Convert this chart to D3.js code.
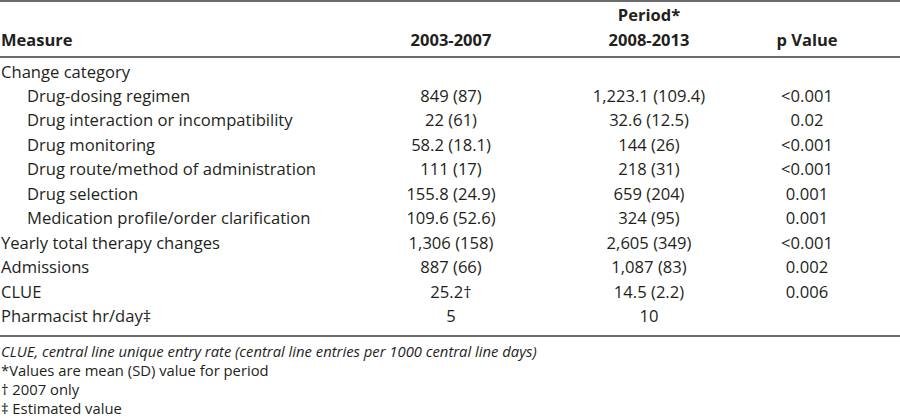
<!DOCTYPE html>
<html><head><meta charset="utf-8">
<script src="https://cdn.jsdelivr.net/npm/d3@7"></script>
<style>body{margin:0;background:#fff;} svg{display:block;}</style>
</head><body><div id="c"></div>
<script>
const columns = ["Measure", "2003-2007", "2008-2013", "p Value"];
const measures = ["Change category", "Drug-dosing regimen", "Drug interaction or incompatibility", "Drug monitoring", "Drug route/method of administration", "Drug selection", "Medication profile/order clarification", "Yearly total therapy changes", "Admissions", "CLUE", "Pharmacist hr/day\u2021"];
const indented = [false, true, true, true, true, true, true, false, false, false, false];
const period1 = ["", "849 (87)", "22 (61)", "58.2 (18.1)", "111 (17)", "155.8 (24.9)", "109.6 (52.6)", "1,306 (158)", "887 (66)", "25.2\u2020", "5"];
const period2 = ["", "1,223.1 (109.4)", "32.6 (12.5)", "144 (26)", "218 (31)", "659 (204)", "324 (95)", "2,605 (349)", "1,087 (83)", "14.5 (2.2)", "10"];
const pValues = ["", "<0.001", "0.02", "<0.001", "<0.001", "0.001", "0.001", "<0.001", "0.002", "0.006", ""];
const footnotes = ["CLUE, central line unique entry rate (central line entries per 1000 central line days)", "*Values are mean (SD) value for period", "\u2020 2007 only", "\u2021 Estimated value"];

const W = 900, H = 418;
const FONT = "'Open Sans', sans-serif";
const BODY = 16.6, HEAD = 16.5, FOOT = 14.8;
const svg = d3.select("#c").append("svg").attr("width", W).attr("height", H);

const y = d3.scalePoint().domain(d3.range(measures.length)).range([77.5, 322]);
const x = d3.scaleOrdinal().domain(columns.slice(1)).range([451, 649, 807]);
const fy = d3.scalePoint().domain(d3.range(footnotes.length)).range([357, 414]);

const lineColor = "#3a3a3a";
svg.append("line").attr("x1",0).attr("x2",W).attr("y1",1).attr("y2",1).attr("stroke",lineColor).attr("stroke-width",1.6);
svg.append("line").attr("x1",0).attr("x2",W).attr("y1",57).attr("y2",57).attr("stroke",lineColor).attr("stroke-width",1.3);
svg.append("line").attr("x1",0).attr("x2",W).attr("y1",336).attr("y2",336).attr("stroke",lineColor).attr("stroke-width",1.3);

const txt = "#231f20";
svg.append("text").attr("x", x("2008-2013")).attr("y", 21).attr("text-anchor","middle")
  .attr("font-family",FONT).attr("font-size",HEAD).attr("font-weight",700).attr("fill",txt).text("Period*");
svg.append("text").attr("x",1).attr("y",46).attr("font-family",FONT).attr("font-size",HEAD).attr("font-weight",700).attr("fill",txt).text(columns[0]);
columns.slice(1).forEach(c => {
  svg.append("text").attr("x", x(c)).attr("y",46).attr("text-anchor","middle")
    .attr("font-family",FONT).attr("font-size",HEAD).attr("font-weight",700).attr("fill",txt).text(c);
});

const rows = svg.append("g").selectAll("g").data(measures).join("g");
rows.append("text").attr("x",(d,i)=> indented[i] ? 27 : 1).attr("y",(d,i)=>y(i))
  .attr("font-family",FONT).attr("font-size",BODY).attr("fill",txt).text(d=>d);
[period1, period2, pValues].forEach((arr, k) => {
  svg.append("g").selectAll("text").data(arr).join("text")
    .attr("x", x(columns[k+1])).attr("y",(d,i)=>y(i)).attr("text-anchor","middle")
    .attr("font-family",FONT).attr("font-size",BODY).attr("fill",txt).text(d=>d);
});

svg.append("g").selectAll("text").data(footnotes).join("text")
  .attr("x",1).attr("y",(d,i)=>fy(i)).attr("font-family",FONT).attr("font-size",FOOT)
  .attr("font-style",(d,i)=> i===0 ? "italic" : "normal").attr("fill",txt).text(d=>d);
</script></body></html>
